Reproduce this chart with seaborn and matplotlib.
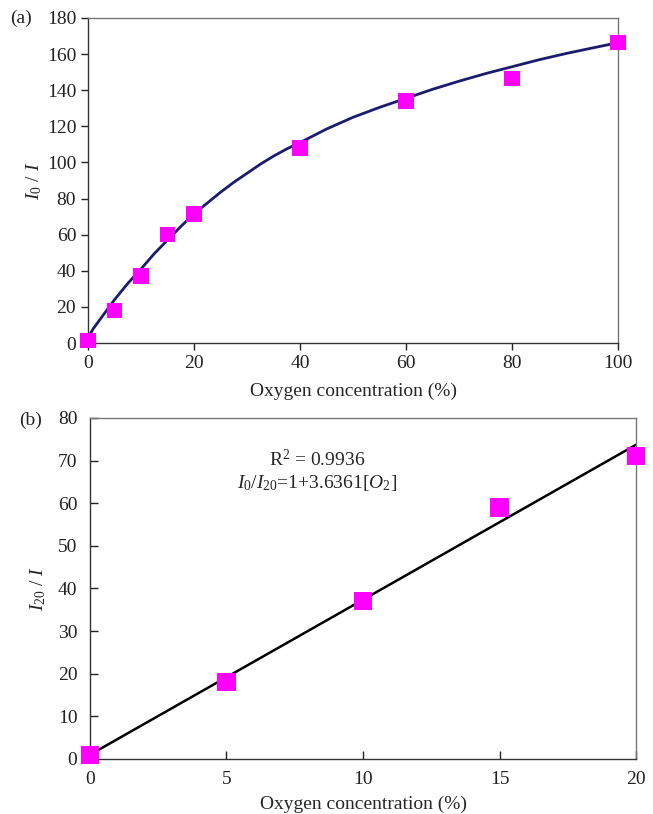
import matplotlib
matplotlib.use("Agg")
import matplotlib.pyplot as plt
import seaborn as sns
import pandas as pd

# ---- data ----
a_x = [0, 5, 10, 15, 20, 40, 60, 80, 100]
a_y = [1.5, 18, 37, 60, 71.5, 108, 134, 146.5, 166.5]
curve_x = [0, 1, 2.5, 5, 7.5, 10, 12.5, 15, 17.5, 20, 22.5, 25, 27.5, 30, 32.5, 35,
           37.5, 40, 45, 50, 55, 60, 65, 70, 75, 80, 85, 90, 95, 100]
curve_y = [3, 8, 14, 24, 33, 41, 49.5, 57, 64.5, 71.5, 77.5, 83.5, 89, 94, 99, 103.5,
           107.5, 111, 118.5, 125, 130.5, 135.5, 140.5, 145, 149.2, 153, 156.8, 160.2, 163.3, 166.3]

b_x = [0, 5, 10, 15, 20]
b_y = [1, 18, 37, 59, 71]
fit_intercept = 1.0
fit_slope = 3.6361
fit_x = [0, 20]
r2_text = "R$^2$ = 0.9936"

a_xticks = [0, 20, 40, 60, 80, 100]
a_yticks = [0, 20, 40, 60, 80, 100, 120, 140, 160, 180]
b_xticks = [0, 5, 10, 15, 20]
b_yticks = [0, 10, 20, 30, 40, 50, 60, 70, 80]

sns.set_theme(style="white")
plt.rcParams['font.family'] = ['Liberation Serif', 'DejaVu Serif']
plt.rcParams['mathtext.fontset'] = 'custom'
plt.rcParams['mathtext.rm'] = 'Liberation Serif'
plt.rcParams['mathtext.it'] = 'Liberation Serif:italic'

fig = plt.figure(figsize=(6.53, 8.14), dpi=100)
axA = fig.add_axes([0.1348, 0.5786, 0.8116, 0.3993])
axB = fig.add_axes([0.1378, 0.0676, 0.8362, 0.4189])

FS = 14
magenta = "#FF00FF"

# ---- panel (a) ----
dfc = pd.DataFrame({"x": curve_x, "y": curve_y})
sns.lineplot(data=dfc, x="x", y="y", ax=axA, color="#1c1c6e", linewidth=2.0)
dfa = pd.DataFrame({"x": a_x, "y": a_y})
sns.scatterplot(data=dfa, x="x", y="y", ax=axA, marker="s", s=125, color=magenta,
                edgecolor="none", zorder=5, clip_on=False)
axA.set_xlim(0, 100)
axA.set_ylim(0, 180)
axA.set_xticks(a_xticks)
axA.set_yticks(a_yticks)
axA.tick_params(direction="out", length=5, width=1, labelsize=FS, colors="#222222",
                bottom=True, left=True)
axA.set_xlabel("Oxygen concentration (%)", fontsize=FS, labelpad=8)
axA.set_ylabel(r"$I_0$ / $I$", fontsize=FS, labelpad=2)
fig.text(0.015, 0.977, "(a)", fontsize=FS, va="center", ha="left")

# ---- panel (b) ----
fit_y = [fit_intercept + fit_slope * v for v in fit_x]
dff = pd.DataFrame({"x": fit_x, "y": fit_y})
sns.lineplot(data=dff, x="x", y="y", ax=axB, color="black", linewidth=1.8)
dfb = pd.DataFrame({"x": b_x, "y": b_y})
sns.scatterplot(data=dfb, x="x", y="y", ax=axB, marker="s", s=170, color=magenta,
                edgecolor="none", zorder=5, clip_on=False)
axB.set_xlim(0, 20)
axB.set_ylim(0, 80)
axB.set_xticks(b_xticks)
axB.set_yticks(b_yticks)
axB.tick_params(direction="in", length=6, width=1, labelsize=FS, colors="#222222",
                bottom=True, left=True)
axB.tick_params(axis="y", pad=9)
axB.tick_params(axis="x", pad=9)
axB.set_xlabel("Oxygen concentration (%)", fontsize=FS, labelpad=5)
axB.set_ylabel(r"$I_{20}$ / $I$", fontsize=FS, labelpad=7)
axB.text(0.416, 0.877, r2_text, transform=axB.transAxes, fontsize=FS, ha="center", va="center")
axB.text(0.416, 0.809, r"$I_0$/$I_{20}$=1+3.6361[$O_2$]", transform=axB.transAxes,
         fontsize=FS, ha="center", va="center")
fig.text(0.03, 0.484, "(b)", fontsize=FS, va="center", ha="left")

for ax in (axA, axB):
    for side in ("top", "right"):
        ax.spines[side].set_color("#777777")
        ax.spines[side].set_linewidth(1.0)
    for side in ("bottom", "left"):
        ax.spines[side].set_color("#333333")
        ax.spines[side].set_linewidth(1.0)

fig.savefig("out.png", dpi=100)
